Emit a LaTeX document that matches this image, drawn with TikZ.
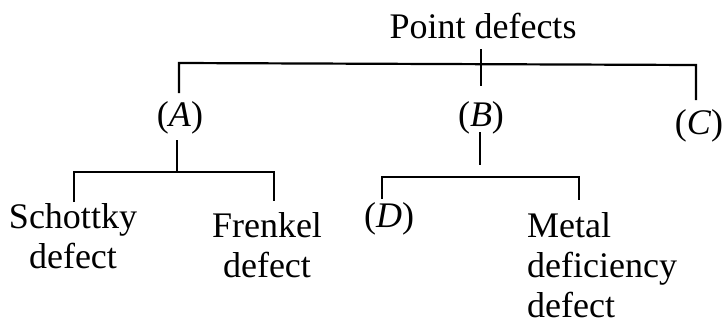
\documentclass[tikz,border=0pt]{standalone}
\usepackage{fontspec}
\setmainfont{Liberation Serif}
\begin{document}
\begin{tikzpicture}[x=1pt,y=-1pt,
  conn/.style={line width=2.2pt},
  lbl/.style={font=\fontsize{36}{40}\selectfont, inner sep=0pt, anchor=base}]
\useasboundingbox (0,0) rectangle (724,325);
% labels
\node[lbl] (P) at (483,38) {Point defects};
\node[lbl] (A) at (180,126) {(\textit{A})};
\node[lbl] (B) at (481,126) {(\textit{B})};
\node[lbl] (C) at (699,134) {(\textit{C})};
\node[lbl, align=center] (S) at (73,268) {Schottky\\defect};
\node[lbl, align=center] (F) at (267,277) {Frenkel\\defect};
\node[lbl] (D) at (389,227) {(\textit{D})};
\node[lbl, align=left, anchor=base west] (M) at (527,317) {Metal\\deficiency\\defect};
% junction coordinates
\coordinate (pT) at (481,49);  \coordinate (pB) at (481,86);
\coordinate (aL) at (179,93);  \coordinate (aT) at (179,63);
\coordinate (cT) at (696,65);  \coordinate (cL) at (696,100);
\coordinate (a1) at (177,140); \coordinate (a2) at (177,172);
\coordinate (sL) at (74,202);  \coordinate (sT) at (74,172);
\coordinate (fT) at (274,172); \coordinate (fL) at (274,201);
\coordinate (b1) at (480,132); \coordinate (b2) at (480,165);
\coordinate (dL) at (382,199); \coordinate (dT) at (382,177);
\coordinate (mT) at (579,177); \coordinate (mL) at (579,200);
% connectors
\draw[conn] (pT) -- (pB);
\draw[conn] (aL) -- (aT) -- (cT) -- (cL);
\draw[conn] (a1) -- (a2);
\draw[conn] (sL) -- (sT) -- (fT) -- (fL);
\draw[conn] (b1) -- (b2);
\draw[conn] (dL) -- (dT) -- (mT) -- (mL);
\end{tikzpicture}
\end{document}
